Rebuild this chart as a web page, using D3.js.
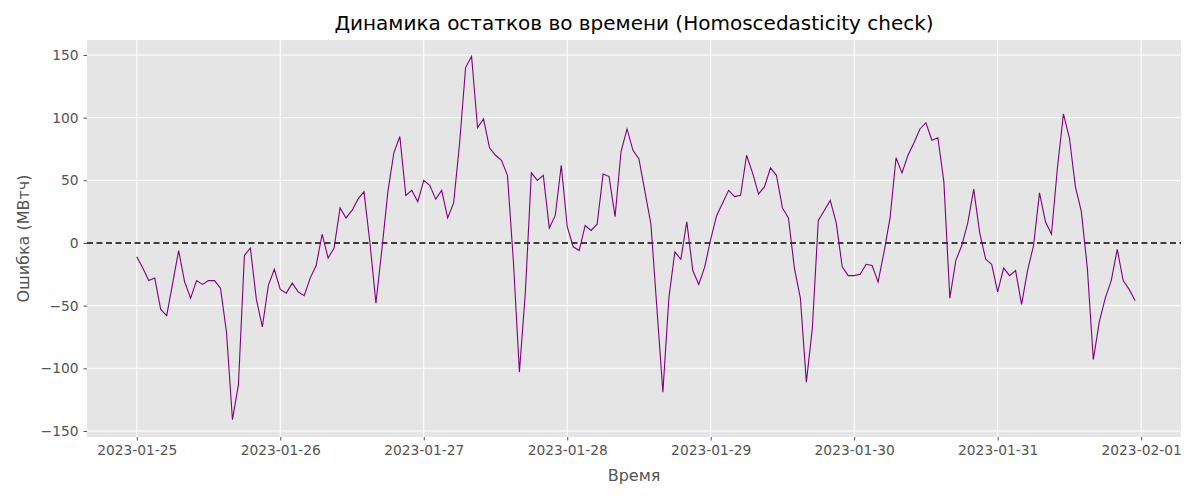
<!DOCTYPE html>
<html>
<head>
<meta charset="utf-8">
<script src="https://d3js.org/d3.v7.min.js"></script>
<style>
  body { margin: 0; background: #fff; font-family: "DejaVu Sans", sans-serif; }
</style>
</head>
<body>
<svg id="chart" width="1200" height="500"></svg>
<script>
// hourly residuals, 2023-01-25 00:00 .. 2023-01-31 23:00
var startDate = new Date(2023, 0, 25);
var residuals = [
  -11, -20, -30, -28, -53, -58, -32, -6, -31, -44, -30, -33, -30, -30, -36, -71, -141, -113, -10, -4, -45, -67, -34, -21,
  -37, -40, -32, -39, -42, -28, -18, 7, -12, -4, 28, 20, 26, 35, 41, 0, -48, -5, 41, 72, 85, 38, 42, 33,
  50, 46, 35, 42, 20, 32, 80, 140, 149, 92, 99, 76, 70, 66, 54, -15, -103, -39, 56, 50, 54, 12, 22, 62,
  13, -3, -6, 14, 10, 15, 55, 53, 21, 73, 91, 74, 67, 41, 15, -52, -119, -44, -7, -13, 17, -22, -33, -19,
  3, 22, 32, 42, 37, 38, 70, 56, 39, 45, 60, 54, 28, 20, -20, -44, -111, -68, 18, 26, 34, 16, -19, -26,
  -26, -25, -17, -18, -31, -7, 20, 68, 56, 70, 80, 91, 96, 82, 84, 49, -44, -14, -2, 16, 43, 8, -13, -17,
  -39, -20, -26, -22, -49, -22, -2, 40, 17, 7, 60, 103, 84, 45, 25, -20, -93, -63, -44, -30, -5, -30, -37, -46
];
var yTicks = [-150, -100, -50, 0, 50, 100, 150];

var data = residuals.map(function(v, i) {
  return { t: d3.timeHour.offset(startDate, i), v: v };
});

var margin = { top: 40, right: 19, bottom: 63, left: 87 };
var width = 1200 - margin.left - margin.right;
var height = 500 - margin.top - margin.bottom;

var svg = d3.select("#chart");
var g = svg.append("g").attr("transform", "translate(" + margin.left + "," + margin.top + ")");

var xScale = d3.scaleTime()
  .domain([d3.timeHour.offset(startDate, -8.2), d3.timeHour.offset(startDate, 174.6)])
  .range([-4, width - 4]);
var yScale = d3.scaleLinear().domain([-154.8, 162]).range([height, 0]);

g.append("rect").attr("width", width).attr("height", height).attr("fill", "#e5e5e5");

var xTicks = d3.timeDay.range(startDate, d3.timeDay.offset(startDate, 8));

// grid
g.selectAll(".gx").data(xTicks).enter().append("line")
  .attr("x1", function(d) { return xScale(d); }).attr("x2", function(d) { return xScale(d); })
  .attr("y1", 0).attr("y2", height).attr("stroke", "#fff").attr("stroke-width", 1);
g.selectAll(".gy").data(yTicks).enter().append("line")
  .attr("x1", 0).attr("x2", width)
  .attr("y1", function(d) { return yScale(d); }).attr("y2", function(d) { return yScale(d); })
  .attr("stroke", "#fff").attr("stroke-width", 1);

// axes
var xAxis = g.append("g").attr("transform", "translate(0," + height + ")")
  .call(d3.axisBottom(xScale).tickValues(xTicks).tickFormat(d3.timeFormat("%Y-%m-%d")).tickSize(3.5).tickPadding(5));
var yAxis = g.append("g")
  .call(d3.axisLeft(yScale).tickValues(yTicks).tickFormat(function(d) { return d < 0 ? "\u2212" + Math.abs(d) : d; }).tickSize(3.5).tickPadding(5));
[xAxis, yAxis].forEach(function(a) {
  a.select(".domain").remove();
  a.selectAll(".tick line").attr("stroke", "#555");
  a.selectAll(".tick text").attr("fill", "#555").style("font-size", "13.8px").style("font-family", "DejaVu Sans");
});

// zero line
g.append("line").attr("x1", 0).attr("x2", width)
  .attr("y1", yScale(0)).attr("y2", yScale(0))
  .attr("stroke", "#000").attr("stroke-width", 1.6).attr("stroke-dasharray", "6,3.5");

// residual line
g.append("path").datum(data)
  .attr("fill", "none").attr("stroke", "purple").attr("stroke-width", 1.1)
  .attr("d", d3.line().x(function(d) { return xScale(d.t); }).y(function(d) { return yScale(d.v); }));

// labels
svg.append("text").attr("x", margin.left + width / 2).attr("y", 30).attr("text-anchor", "middle")
  .style("font-size", "20px").style("font-family", "DejaVu Sans")
  .text("Динамика остатков во времени (Homoscedasticity check)");
svg.append("text").attr("x", margin.left + width / 2).attr("y", 481).attr("text-anchor", "middle")
  .attr("fill", "#555").style("font-size", "16px").style("font-family", "DejaVu Sans").text("Время");
svg.append("text").attr("transform", "translate(29," + (margin.top + height / 2) + ") rotate(-90)")
  .attr("text-anchor", "middle").attr("fill", "#555").style("font-size", "16px").style("font-family", "DejaVu Sans")
  .text("Ошибка (МВтч)");
</script>
</body>
</html>
